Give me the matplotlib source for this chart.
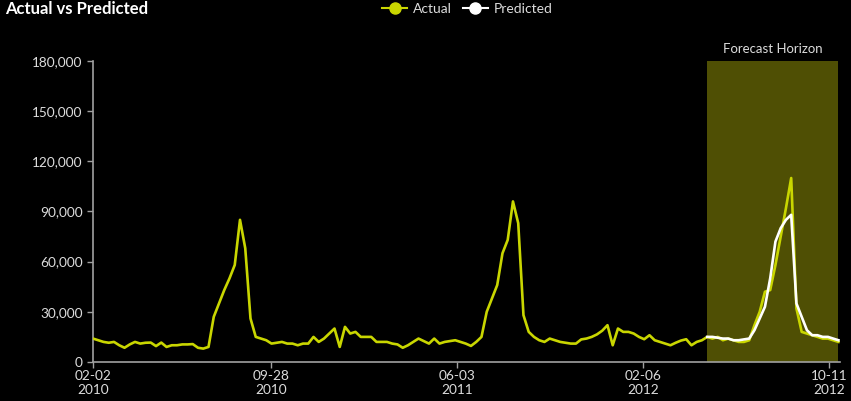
import matplotlib
matplotlib.use("Agg")
import matplotlib.pyplot as plt
import matplotlib.dates as mdates
import numpy as np
import pandas as pd
from matplotlib.lines import Line2D

plt.rcParams['font.family'] = ['Lato', 'DejaVu Sans']

start_date = "2010-02-02"
n_weeks = 143
forecast_start_idx = 117

actual = [14.0, 13.0, 12.0, 11.5, 12.0, 10.0, 8.5, 10.5, 12.0, 11.0,
          11.5, 11.6, 9.5, 11.6, 9.0, 10.0, 10.0, 10.5, 10.5, 10.7,
          8.5, 8.0, 9.0, 27.0, 35.0, 43.0, 50.0, 58.0, 85.0, 68.0,
          26.0, 15.0, 14.0, 13.0, 11.0, 11.5, 12.0, 11.0, 11.0, 10.0,
          11.0, 11.0, 15.0, 12.0, 14.0, 17.0, 20.0, 9.0, 21.0, 17.0,
          18.0, 15.0, 15.0, 15.0, 12.0, 12.0, 12.0, 11.0, 10.5, 8.5,
          10.0, 12.0, 14.0, 12.5, 11.0, 14.0, 11.0, 12.0, 12.5, 13.0,
          12.0, 11.0, 9.6, 12.0, 15.0, 30.0, 38.0, 46.0, 65.0, 73.0,
          96.0, 83.0, 28.0, 18.0, 15.0, 13.0, 12.0, 14.0, 13.0, 12.0,
          11.5, 11.0, 11.0, 13.5, 14.0, 15.0, 16.5, 18.7, 22.0, 10.0,
          20.0, 18.0, 18.0, 17.0, 15.0, 13.6, 16.0, 13.0, 12.0, 11.0,
          10.0, 11.5, 12.8, 13.6, 10.0, 12.0, 13.0, 15.0, 14.0, 15.0,
          13.0, 14.0, 13.0, 12.0, 12.0, 13.0, 22.0, 30.0, 42.0, 43.0,
          58.0, 75.0, 92.0, 110.0, 32.0, 18.0, 17.0, 16.0, 15.0, 14.0,
          14.0, 13.0, 12.0]
predicted = [15.0, 15.0, 14.5, 14.0, 14.0, 13.0, 13.0, 13.5, 14.0, 19.0,
             26.0, 33.0, 50.0, 72.0, 80.0, 85.0, 88.0, 35.0, 27.0, 19.0,
             16.0, 16.0, 15.0, 15.0, 14.0, 13.0]

tick_dates = ["2010-02-02", "2010-09-28", "2011-06-03", "2012-02-06", "2012-10-11"]
tick_labels = ["02-02\n2010", "09-28\n2010", "06-03\n2011", "02-06\n2012", "10-11\n2012"]
y_ticks = [0, 30000, 60000, 90000, 120000, 150000, 180000]

dates = pd.date_range(start_date, periods=n_weeks, freq="7D")
actual_v = np.array(actual) * 1000
pred_v = np.array(predicted) * 1000
pred_dates = dates[forecast_start_idx:]

yellow = "#c9d600"
band_col = "#4f4f04"
txt = "#dcdcdc"
axis_col = "#a0a0a0"

fig = plt.figure(figsize=(8.51, 4.01), dpi=100, facecolor="black")
ax = fig.add_axes([0.1093, 0.0973, 0.8777, 0.7507], facecolor="black")

ax.axvspan(dates[forecast_start_idx], dates[-1], color=band_col, zorder=0, lw=0)
ax.text(mdates.date2num(dates[forecast_start_idx]) / 2 + mdates.date2num(dates[-1]) / 2,
        187000, "Forecast Horizon", ha="center", va="center", color=txt, fontsize=9.5)

ax.plot(dates, actual_v, color=yellow, lw=1.9, zorder=3)
ax.plot(pred_dates, pred_v, color="white", lw=1.9, zorder=4)

ax.set_ylim(0, 180000)
ax.set_xlim(dates[0], dates[-1] + pd.Timedelta(days=2))
ax.set_yticks(y_ticks)
ax.set_yticklabels([f"{v:,}" for v in y_ticks])
ax.set_xticks(pd.to_datetime(tick_dates))
ax.set_xticklabels(tick_labels, linespacing=1.15)

for s in ["top", "right"]:
    ax.spines[s].set_visible(False)
for s in ["left", "bottom"]:
    ax.spines[s].set_color(axis_col)
    ax.spines[s].set_linewidth(1.2)
ax.tick_params(colors=axis_col, labelcolor=txt, labelsize=9.8, length=4, width=1)
ax.tick_params(axis="x", pad=2)

fig.text(0.006, 0.978, "Actual vs Predicted", color="white", fontsize=12,
         fontweight="bold", ha="left", va="center")

handles = [Line2D([0], [0], color=yellow, marker="o", markersize=8, lw=1.5),
           Line2D([0], [0], color="white", marker="o", markersize=8, lw=1.5)]
fig.legend(handles, ["Actual", "Predicted"], loc="center", bbox_to_anchor=(0.549, 0.978),
           ncol=2, frameon=False, labelcolor=txt, fontsize=10, handlelength=1.8,
           columnspacing=0.8, handletextpad=0.4)

fig.savefig("out.png", dpi=100, facecolor="black")
